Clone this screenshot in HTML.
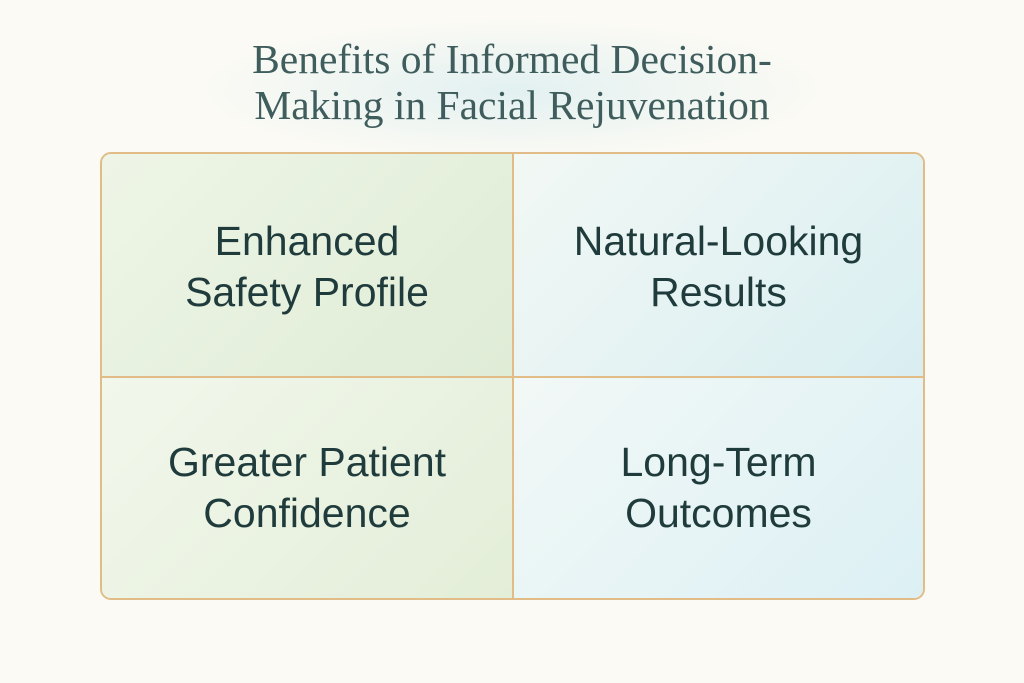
<!DOCTYPE html>
<html><head><meta charset="utf-8"><style>
html,body{margin:0;padding:0;}
body{width:1024px;height:683px;background:#fbfaf4;position:relative;overflow:hidden;font-family:"Liberation Sans",sans-serif;}
.glow{position:absolute;left:200px;top:20px;width:624px;height:140px;background:radial-gradient(ellipse at center,rgba(220,238,240,0.8),rgba(251,250,244,0) 70%);}
.title{position:absolute;left:0;width:1024px;top:36px;text-align:center;font-family:"Liberation Serif",serif;font-size:41.5px;line-height:46px;color:#3f5d5c;}
.grid{position:absolute;left:100px;top:152px;width:821px;height:444px;border:2px solid #e2bc86;border-radius:11px;overflow:hidden;}
.cell{position:absolute;display:flex;align-items:center;justify-content:center;text-align:center;font-size:41px;line-height:51px;color:#1f3b3c;}
.tl{left:0;top:0;width:410px;height:222px;background:linear-gradient(135deg,#eef5e6,#dfecd6);}
.tr{left:412px;top:0;width:409px;height:222px;background:linear-gradient(135deg,#f2f8f4,#d9eef2);}
.bl{left:0;top:224px;width:410px;height:220px;background:linear-gradient(135deg,#f2f7ec,#e3eed8);}
.br{left:412px;top:224px;width:409px;height:220px;background:linear-gradient(135deg,#f2f8f6,#dcf0f4);}
.v{position:absolute;left:410px;top:0;width:2px;height:444px;background:#e2bc86;}
.h{position:absolute;left:0;top:222px;width:821px;height:2px;background:#e2bc86;}
</style></head><body>
<div class="glow"></div>
<div class="title">Benefits of Informed Decision-<br>Making in Facial Rejuvenation</div>
<div class="grid">
<div class="cell tl" style="padding-top:2px">Enhanced<br>Safety Profile</div>
<div class="cell tr" style="padding-top:2px">Natural-Looking<br>Results</div>
<div class="cell bl">Greater Patient<br>Confidence</div>
<div class="cell br">Long-Term<br>Outcomes</div>
<div class="v"></div><div class="h"></div>
</div>
</body></html>
